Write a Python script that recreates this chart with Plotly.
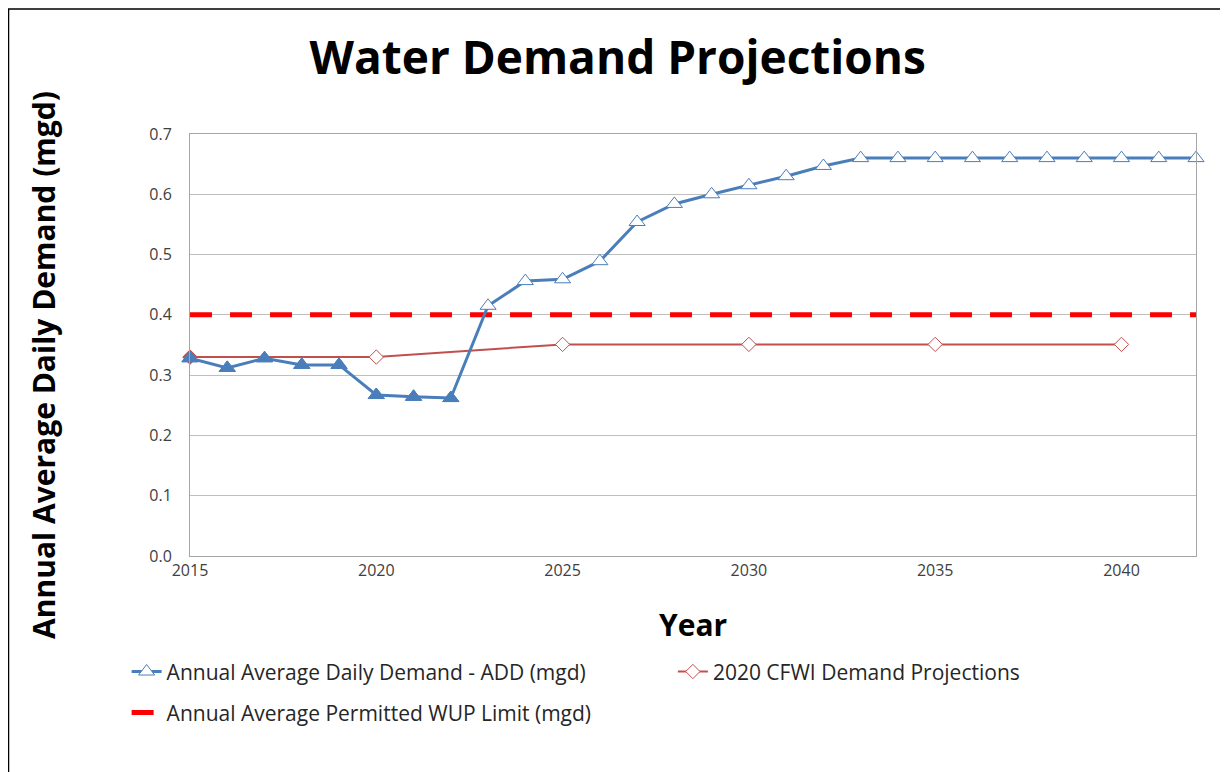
import plotly.graph_objects as go

years = list(range(2015, 2043))
add_mgd = [0.328, 0.312, 0.328, 0.317, 0.317, 0.267, 0.264, 0.262,
           0.415, 0.456, 0.459, 0.489, 0.554, 0.584, 0.600, 0.615, 0.630, 0.647,
           0.660, 0.660, 0.660, 0.660, 0.660, 0.660, 0.660, 0.660, 0.660, 0.660]
n_actual = 8  # 2015-2022 are filled markers

cfwi_years = [2015, 2020, 2025, 2030, 2035, 2040]
cfwi_mgd = [0.330, 0.330, 0.351, 0.351, 0.351, 0.351]

wup_years = [2015, 2042]
wup_mgd = [0.4, 0.4]

BLUE = '#4A7EBB'
DARKRED = '#C0504D'
FONT = 'Open Sans'

fig = go.Figure()

fig.add_trace(go.Scatter(
    x=wup_years, y=wup_mgd, mode='lines', name='Annual Average Permitted WUP Limit (mgd)',
    line=dict(color='#FF0000', width=5, dash='22px,18px'), legend='legend3'))

fig.add_trace(go.Scatter(
    x=cfwi_years, y=cfwi_mgd, mode='lines+markers', name='2020 CFWI Demand Projections',
    line=dict(color=DARKRED, width=2),
    marker=dict(symbol='diamond', size=11, color='white', line=dict(color=DARKRED, width=1)),
    cliponaxis=False, legend='legend2'))
fig.add_trace(go.Scatter(
    x=cfwi_years[:1], y=cfwi_mgd[:1], mode='markers', showlegend=False,
    marker=dict(symbol='diamond', size=11, color=DARKRED, line=dict(color=DARKRED, width=1)),
    cliponaxis=False))

fig.add_trace(go.Scatter(
    x=years, y=add_mgd, mode='lines+markers', name='Annual Average Daily Demand - ADD (mgd)',
    line=dict(color=BLUE, width=3),
    marker=dict(symbol='triangle-up', size=14, color='white', line=dict(color=BLUE, width=1)),
    cliponaxis=False, legend='legend'))
fig.add_trace(go.Scatter(
    x=years[:n_actual], y=add_mgd[:n_actual], mode='markers', showlegend=False,
    marker=dict(symbol='triangle-up', size=14, color=BLUE, line=dict(color=BLUE, width=1)),
    cliponaxis=False))

legend_font = dict(family=FONT, size=21, color='#262626')
fig.update_layout(
    width=1228, height=772,
    margin=dict(l=182, r=40, t=126, b=224),
    paper_bgcolor='white', plot_bgcolor='white',
    font=dict(family=FONT, color='#404040'),
    title=dict(text='<b>Water Demand Projections</b>', x=0.4965, xanchor='center',
               y=0.935, yanchor='middle', font=dict(family=FONT, size=46, color='black')),
    xaxis=dict(range=[2015, 2042], dtick=5, tick0=2015, showgrid=False, zeroline=False,
               showline=True, linecolor='#A6A6A6', mirror=True, ticks='',
               ticklabelstandoff=0, tickfont=dict(size=16, color='#404040')),
    yaxis=dict(range=[0, 0.7], dtick=0.1, tickformat='.1f', showgrid=True, gridcolor='#BFBFBF',
               zeroline=False, showline=True, linecolor='#A6A6A6', mirror=True, ticks='',
               ticklabelstandoff=14, tickfont=dict(size=16, color='#404040')),
    legend=dict(orientation='h', x=-0.063, y=-0.226, xanchor='left', yanchor='top',
                font=legend_font, bgcolor='rgba(0,0,0,0)'),
    legend2=dict(orientation='h', x=0.48, y=-0.226, xanchor='left', yanchor='top',
                 font=legend_font, bgcolor='rgba(0,0,0,0)'),
    legend3=dict(orientation='h', x=-0.063, y=-0.323, xanchor='left', yanchor='top',
                 font=legend_font, bgcolor='rgba(0,0,0,0)'),
    annotations=[
        dict(text='<b>Annual Average Daily Demand (mgd)</b>', xref='paper', yref='paper',
             x=-0.145, y=0.453, xanchor='center', yanchor='middle', textangle=-90,
             showarrow=False, font=dict(family=FONT, size=30, color='black')),
        dict(text='<b>Year</b>', xref='paper', yref='paper', x=0.5, y=-0.1635,
             xanchor='center', yanchor='middle', showarrow=False,
             font=dict(family=FONT, size=30, color='black')),
    ],
    shapes=[dict(type='rect', xref='paper', yref='paper', x0=-0.1804, x1=1.0298,
                 y0=-0.6, y1=1.296, line=dict(color='black', width=1.5))],
)

fig.write_html("out.html")
